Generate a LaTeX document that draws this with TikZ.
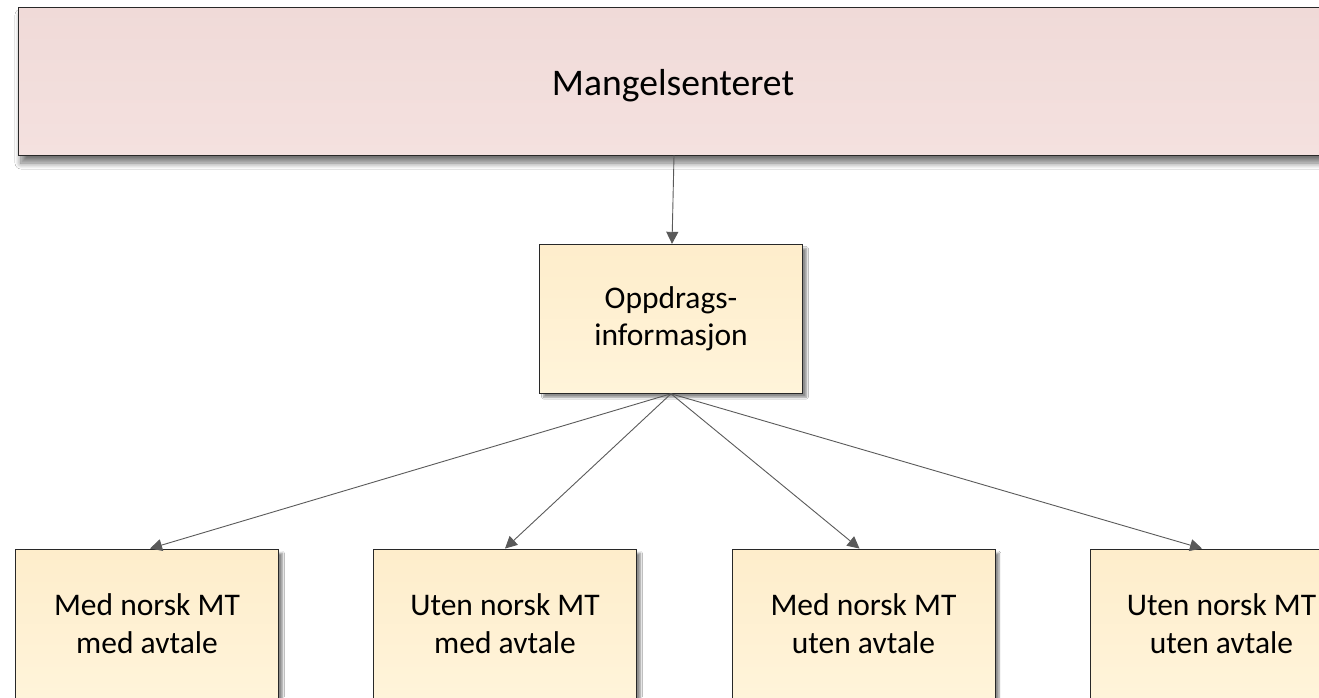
\documentclass[tikz,border=0pt]{standalone}
\usepackage{fontspec}
\setmainfont{Carlito}
\usetikzlibrary{arrows.meta,shadows.blur}
\definecolor{pinkT}{RGB}{240,218,216}
\definecolor{pinkB}{RGB}{244,225,223}
\definecolor{yelT}{RGB}{254,237,203}
\definecolor{yelB}{RGB}{255,244,218}
\definecolor{edgec}{RGB}{40,40,40}
\definecolor{arrc}{RGB}{90,90,90}
\tikzset{
  topbox/.style={draw=edgec, line width=0.9pt, top color=pinkT, bottom color=pinkB,
    minimum width=1310pt, minimum height=148pt, inner sep=0pt,
    blur shadow={shadow xshift=3pt, shadow yshift=-8pt, shadow blur steps=8, shadow blur radius=6pt, shadow opacity=55},
    font=\fontsize{37.6}{45}\selectfont},
  ybox/.style={draw=edgec, line width=0.9pt, top color=yelT, bottom color=yelB,
    minimum width=263pt, minimum height=149pt, inner sep=0pt, align=center,
    blur shadow={shadow xshift=4pt, shadow yshift=-4pt, shadow blur steps=6, shadow opacity=45},
    font=\fontsize{31.5}{37.5}\selectfont},
  conn/.style={draw=arrc, line width=0.9pt, -{Triangle[length=12pt,width=12pt]}, arrc}
}
\begin{document}
\begin{tikzpicture}[x=1pt,y=-1pt]
\useasboundingbox (0,0) rectangle (1319,697);
\clip (0,0) rectangle (1319,697);
\fill[white] (0,0) rectangle (1319,697);
\node[topbox] (top) at (673,81) {\rule{0pt}{36pt}Mangelsenteret};
\node[ybox] (mid) at (671,318.8) {Oppdrags-\\informasjon};
\node[ybox] (b1) at (147,623.5) {Med norsk MT\\med avtale};
\node[ybox] (b2) at (505,623.5) {Uten norsk MT\\med avtale};
\node[ybox] (b3) at (863.5,623.5) {Med norsk MT\\uten avtale};
\node[ybox] (b4) at (1221.5,623.5) {Uten norsk MT\\uten avtale};
\draw[conn] ([xshift=1pt]top.south) -- ([xshift=1pt]mid.north);
\draw[conn] (mid.south) -- ([xshift=3pt]b1.north);
\draw[conn] (mid.south) -- (b2.north);
\draw[conn] (mid.south) -- ([xshift=-4pt]b3.north);
\draw[conn] (mid.south) -- ([xshift=-19.5pt]b4.north);
\end{tikzpicture}
\end{document}
